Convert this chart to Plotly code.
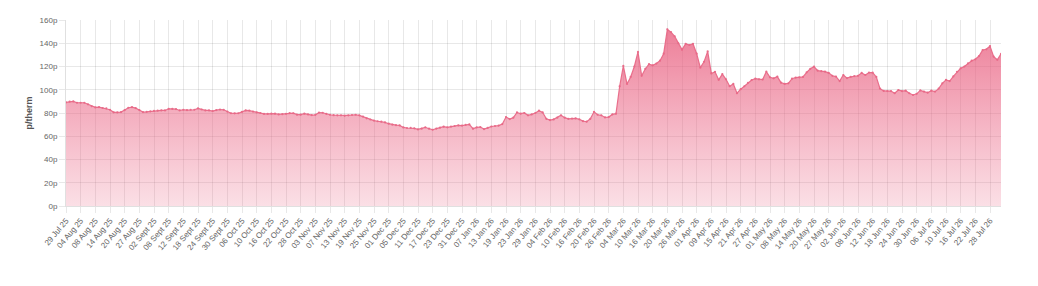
import pandas as pd
import plotly.graph_objects as go

# UK working days (one price per trading day)
START_DATE = "2025-07-29"
END_DATE = "2026-07-31"
UK_HOLIDAYS = ["2025-08-25", "2025-12-25", "2025-12-26", "2026-01-01",
               "2026-04-03", "2026-04-06", "2026-05-04", "2026-05-25"]

PRICES = [
    89.1, 89.8, 90.0, 88.8, 88.8, 88.8, 87.5, 85.8, 84.8, 85.0,
    84.3, 84.0, 82.8, 80.6, 80.5, 80.8, 82.5, 84.5, 85.0, 84.2,
    82.5, 80.8, 81.0, 81.4, 81.8, 82.0, 82.2, 82.2, 83.6, 83.5,
    83.4, 82.2, 82.8, 82.5, 82.8, 82.8, 84.0, 83.0, 82.2, 82.2,
    81.7, 82.5, 83.0, 82.8, 81.2, 79.8, 79.7, 79.8, 81.0, 82.2,
    82.0, 81.2, 80.5,
    80.0, 79.2, 79.2, 79.5, 79.4, 78.8, 79.0, 79.3, 79.9, 79.8,
    78.6, 78.6, 79.4, 78.8, 78.2, 78.4, 80.4, 80.2, 79.2, 78.5,
    78.1, 78.0, 78.0, 77.6, 78.0, 78.3, 78.5, 78.0, 76.9, 75.4,
    74.4, 73.5, 72.9, 72.5, 71.9, 70.8, 70.0, 69.5, 69.3, 67.6,
    67.1, 67.2, 66.8, 65.9, 66.5, 67.7, 66.5, 65.6, 66.6, 67.4,
    68.2, 67.7, 68.3, 68.8,
    69.4, 69.2, 69.8, 70.2, 66.5, 67.6, 67.9, 66.2, 67.2, 68.4,
    68.8, 69.2, 70.5, 76.5, 74.8, 76.0, 80.5, 79.4, 80.0, 78.0,
    78.8, 80.0, 82.0, 80.5, 75.0, 73.9, 74.5, 76.0, 78.0, 76.0,
    75.0, 75.2, 75.4, 74.6, 73.0, 72.5, 75.0, 81.0, 78.5, 78.0,
    76.2, 76.5, 78.8, 79.4,
    103.0, 120.5, 105.0, 111.0, 120.0, 132.5, 112.0, 118.0, 122.0, 121.0,
    122.5, 125.0, 131.0, 152.0, 149.5, 146.0, 140.0, 134.5, 139.5, 138.5,
    139.5, 131.0, 119.0, 124.0, 133.0, 114.0, 115.5, 108.5, 113.5, 109.0,
    103.0, 105.0, 97.0, 100.5, 103.0, 106.0, 108.4, 109.5, 109.0, 108.8,
    115.6, 110.7, 109.8, 111.3, 106.1, 105.0, 105.5, 109.5, 110.5, 110.7,
    111.0, 115.0, 118.0, 120.0, 116.5, 116.0, 115.6, 114.5, 112.0, 111.3,
    107.5, 112.7, 110.0, 111.0, 111.8, 112.0, 114.5, 112.7, 114.8, 114.7,
    111.0, 101.0, 99.0, 98.9, 98.9, 97.0, 99.8, 98.9, 99.2, 97.0,
    95.5, 96.5, 99.5, 98.4, 97.5, 99.2, 98.4, 101.0, 105.5, 108.5,
    107.5, 111.5, 115.5, 118.5, 120.0, 122.7, 125.0, 126.2, 129.0, 134.2,
    134.8, 137.6, 128.5, 125.8, 130.8,
]

Y_TICKS = [0, 20, 40, 60, 80, 100, 120, 140, 160]
Y_TICK_LABELS = [f"{v}p" for v in Y_TICKS]

dates = pd.bdate_range(START_DATE, END_DATE, freq="C", holidays=UK_HOLIDAYS)
CATEGORIES = [d.strftime("%d %b %y").replace("Sep ", "Sept ") for d in dates]
n = min(len(CATEGORIES), len(PRICES))
CATEGORIES = CATEGORIES[:n]
PRICES = PRICES[:n]

TICK_LABELS = CATEGORIES[::4]

fig = go.Figure()
fig.add_trace(go.Scatter(
    x=CATEGORIES,
    y=PRICES,
    mode="lines+markers",
    line=dict(color="rgba(232,105,135,0.95)", width=1.2),
    marker=dict(size=2.2, color="rgba(232,105,135,0.95)"),
    fill="tozeroy",
    fillgradient=dict(
        type="vertical",
        start=0,
        stop=160,
        colorscale=[[0, "rgba(236,110,140,0.22)"],
                    [0.5, "rgba(234,100,132,0.52)"],
                    [1, "rgba(232,92,125,0.82)"]],
    ),
    hoverinfo="x+y",
))

grid_col = "rgba(0,0,0,0.09)"
font_fam = "Liberation Sans, Arial, sans-serif"

fig.update_layout(
    width=1038,
    height=286,
    margin=dict(l=66, r=37, t=20, b=80),
    paper_bgcolor="white",
    plot_bgcolor="white",
    showlegend=False,
    font=dict(family=font_fam, color="#666666", size=8),
    xaxis=dict(
        type="category",
        categoryorder="array",
        categoryarray=CATEGORIES,
        range=[0, n - 1],
        tickmode="array",
        tickvals=TICK_LABELS,
        ticktext=TICK_LABELS,
        tickangle=-50,
        tickfont=dict(size=8, color="#666666", family=font_fam),
        showgrid=True,
        gridcolor=grid_col,
        gridwidth=1,
        ticks="outside",
        ticklen=6,
        tickcolor=grid_col,
        showline=True,
        linecolor="rgba(0,0,0,0.12)",
        linewidth=1,
        zeroline=False,
        fixedrange=True,
    ),
    yaxis=dict(
        range=[0, 160],
        tickmode="array",
        tickvals=Y_TICKS,
        ticktext=Y_TICK_LABELS,
        tickfont=dict(size=8, color="#666666", family=font_fam),
        showgrid=True,
        gridcolor=grid_col,
        gridwidth=1,
        ticks="outside",
        ticklen=6,
        tickcolor=grid_col,
        showline=True,
        linecolor="rgba(0,0,0,0.12)",
        zeroline=False,
        title=dict(text="<b>p/therm</b>", font=dict(size=9, color="#555555", family=font_fam), standoff=5),
        fixedrange=True,
    ),
)

fig.write_html("out.html")
